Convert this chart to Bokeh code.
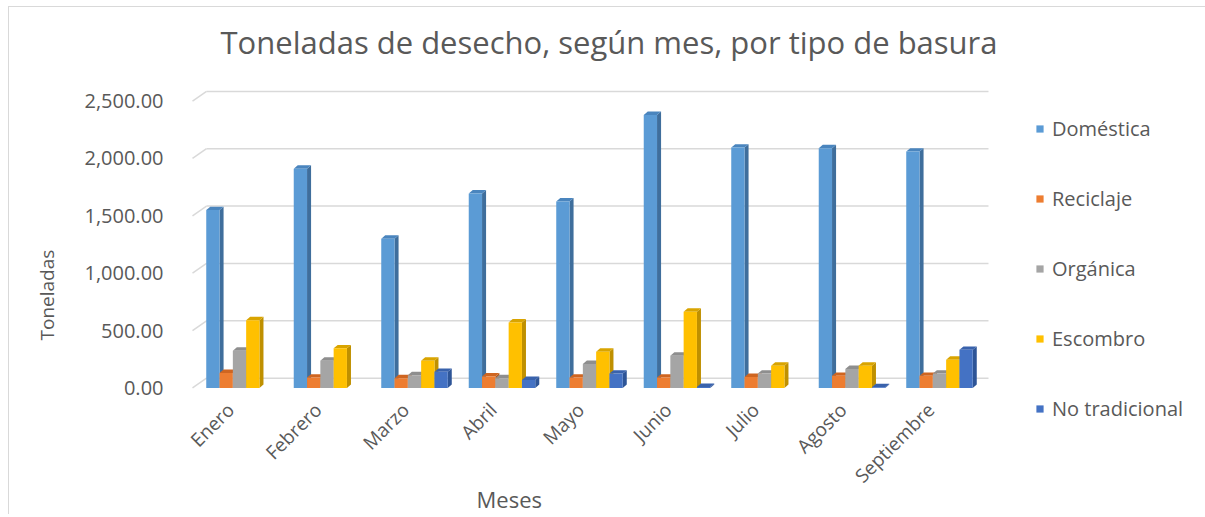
import math
from bokeh.plotting import figure
from bokeh.models import Range1d, FixedTicker, NumeralTickFormatter, Legend, LegendItem, Title
from bokeh.embed import file_html
from bokeh.resources import INLINE

# ---------------- data ----------------
meses = ["Enero", "Febrero", "Marzo", "Abril", "Mayo", "Junio", "Julio", "Agosto", "Septiembre"]
domestica = [1550, 1910, 1300, 1695, 1626, 2380, 2095, 2090, 2060]
reciclaje = [130, 90, 85, 100, 90, 90, 95, 105, 105]
organica = [325, 237, 110, 85, 208, 280, 125, 165, 125]
escombro = [590, 345, 237, 570, 315, 665, 194, 194, 246]
no_tradicional = [0, 0, 140, 70, 125, 8, 0, 6, 332]
series_names = ["Doméstica", "Reciclaje", "Orgánica", "Escombro", "No tradicional"]
y_ticks = [0, 500, 1000, 1500, 2000, 2500]

# ---------------- style ----------------
FONT = "Open Sans"
TXT = "#595959"
GRID = "#D9D9D9"
front_cols = ["#5B9BD5", "#ED7D31", "#A5A5A5", "#FFC000", "#4472C4"]
side_cols = ["#3F6E9C", "#B3591C", "#7B7B7B", "#BF9000", "#2E5597"]
top_cols = ["#4A85BE", "#CF6520", "#8E8E8E", "#D9A400", "#3962AC"]

BW = 0.152      # bar front width (category units)
DX = 0.046      # bar depth, horizontal
DY = 30.0       # bar depth, vertical (data units)
GDX = 0.16      # wall depth horizontal
GDY = 85.0      # wall depth vertical
LABEL_SHIFT = 0.1

p = figure(frame_width=800, frame_height=322,
           min_border_left=175, min_border_right=217, min_border_top=63, min_border_bottom=122,
           x_range=Range1d(0.44, 9.583), y_range=Range1d(-40, 2767),
           output_backend="svg", toolbar_location=None,
           styles={"border-top": "1px solid #D9D9D9", "border-left": "1px solid #D9D9D9",
                   "border-right": "1px solid #D9D9D9",
                   "margin-left": "8px", "margin-top": "6px"})

p.title.text = "Toneladas de desecho, según mes, por tipo de basura"
p.title.align = "left"
p.title.offset = 30
p.title.standoff = 16
p.title.text_font = FONT
p.title.text_font_size = "31px"
p.title.text_font_style = "normal"
p.title.text_color = TXT

p.xgrid.visible = False
p.ygrid.visible = False
p.outline_line_color = None

# back-wall gridlines with slanted side-wall segments
gx0 = 0.463
gx1 = gx0 + GDX
gx2 = 9.56
p.segment(x0=[gx1] * len(y_ticks), y0=[t + GDY for t in y_ticks],
          x1=[gx2] * len(y_ticks), y1=[t + GDY for t in y_ticks],
          line_color=GRID, line_width=1.5)
p.segment(x0=[gx0] * len(y_ticks), y0=y_ticks,
          x1=[gx1] * len(y_ticks), y1=[t + GDY for t in y_ticks],
          line_color=GRID, line_width=1.5)

series = [domestica, reciclaje, organica, escombro, no_tradicional]
legend_items = []
for k, vals in enumerate(series):
    keep = [i for i in range(len(meses)) if vals[i] > 0]
    centers = [i + 1 + (k - 2) * BW for i in keep]
    lefts = [c - BW / 2 for c in centers]
    rights = [c + BW / 2 for c in centers]
    tops = [vals[i] for i in keep]
    side_xs = [[r, r + DX, r + DX, r] for r in rights]
    side_ys = [[0, DY, t + DY, t] for t in tops]
    top_xs = [[l, r, r + DX, l + DX] for l, r in zip(lefts, rights)]
    top_ys = [[t, t, t + DY, t + DY] for t in tops]
    p.patches(side_xs, side_ys, fill_color=side_cols[k], line_color=None)
    p.patches(top_xs, top_ys, fill_color=top_cols[k], line_color=None)
    r = p.quad(left=lefts, right=rights, bottom=[0] * len(tops), top=tops,
               fill_color=front_cols[k], line_color=None)
    legend_items.append(LegendItem(label=series_names[k], renderers=[r]))

# axes
p.yaxis.ticker = FixedTicker(ticks=y_ticks)
p.yaxis.formatter = NumeralTickFormatter(format="0,0.00")
p.yaxis.major_label_text_font = FONT
p.yaxis.major_label_text_font_size = "20px"
p.yaxis.major_label_text_color = TXT
p.yaxis.major_label_standoff = 21
p.yaxis.axis_line_color = None
p.yaxis.major_tick_line_color = None
p.yaxis.minor_tick_line_color = None

tick_pos = [round(i + 1 - LABEL_SHIFT, 2) for i in range(len(meses))]
p.xaxis.ticker = FixedTicker(ticks=tick_pos)
p.xaxis.major_label_overrides = {t: m for t, m in zip(tick_pos, meses)}
p.xaxis.major_label_orientation = math.pi / 4
p.xaxis.major_label_text_font = FONT
p.xaxis.major_label_text_font_size = "19px"
p.xaxis.major_label_text_color = TXT
p.xaxis.major_label_standoff = 8
p.xaxis.axis_line_color = None
p.xaxis.major_tick_line_color = None
p.xaxis.minor_tick_line_color = None

# axis titles
p.add_layout(Title(text="Meses", align="left", offset=286, vertical_align="top", standoff=-34,
                   text_font=FONT, text_font_size="22px", text_font_style="normal",
                   text_color=TXT), "below")
p.add_layout(Title(text="Toneladas", align="left", offset=52, standoff=44,
                   text_font=FONT, text_font_size="19px", text_font_style="normal",
                   text_color=TXT), "left")

legend = Legend(items=legend_items, location=(45, -30), orientation="vertical",
                glyph_width=9, glyph_height=9, label_height=28, spacing=42,
                label_standoff=8, padding=0, margin=0,
                label_text_font=FONT, label_text_font_size="20px", label_text_color=TXT,
                border_line_color=None, background_fill_alpha=0)
p.add_layout(legend, "right")

open("out.html", "w").write(file_html(p, INLINE))
